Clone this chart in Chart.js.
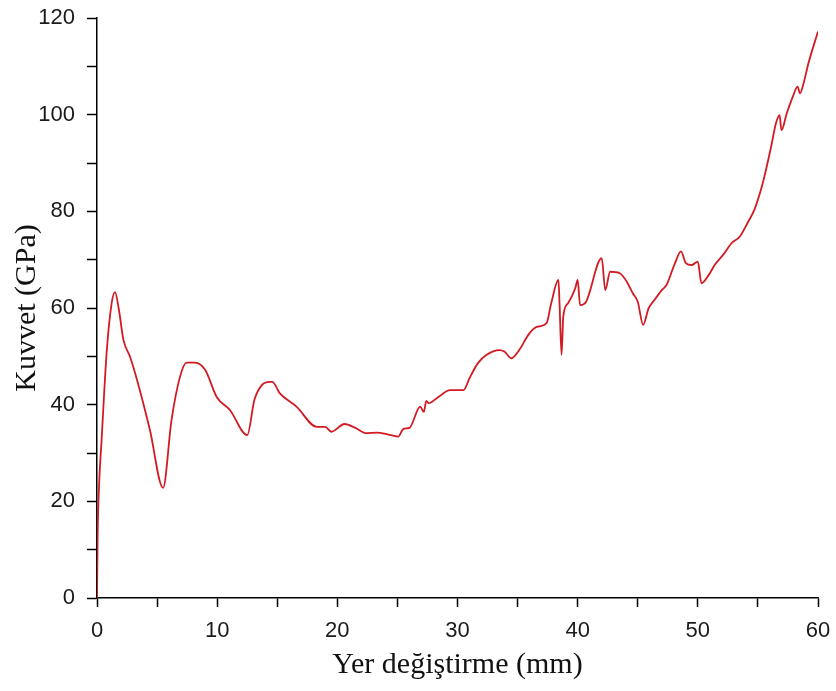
<!DOCTYPE html>
<html>
<head>
<meta charset="utf-8">
<script src="https://cdn.jsdelivr.net/npm/chart.js@4/dist/chart.umd.min.js"></script>
<style>
  html, body { margin: 0; padding: 0; background: #fff; }
  #wrap { width: 836px; height: 691px; }
</style>
</head>
<body>
<div id="wrap"><canvas id="canvas-1"></canvas></div>
<script>
// displacement (mm) and force readings
var disp = [0, 0.05, 0.15, 0.39, 0.8, 1.22, 1.5, 1.8, 2.2, 2.75, 3.4, 4.4, 5.5, 6.2, 6.9, 7.46, 8.15, 9.0, 9.96, 11.06,
  12.5, 13.1, 13.7, 14.4, 14.6, 15.2, 16.6, 18.3, 19.0, 19.5, 20.6, 21.5, 22.4, 23.3, 24.1, 25.07, 25.5, 26.0, 26.9, 27.2,
  27.4, 27.6, 28.3, 29.4, 30.5, 31.0, 31.7, 32.4, 33.5, 33.9, 34.5, 35.05, 36.0, 36.6, 37.4, 37.8, 38.4, 38.5, 38.66, 38.8,
  39.2, 39.8, 40.0, 40.2, 40.7, 42.0, 42.3, 42.7, 43.5, 44.1, 44.6, 45.0, 45.45, 45.9, 46.4, 47.0, 47.4, 48.1, 48.6, 49.0,
  49.5, 50.0, 50.3, 50.9, 51.4, 52.2, 52.8, 53.5, 54.2, 54.7, 55.4, 56.1, 56.5, 56.8, 56.96, 57.4, 57.9, 58.3, 58.5, 58.8,
  59.2, 60.0];
var force = [0, 12.6, 22, 33, 50.7, 61, 63.3, 60, 53.4, 49.9, 44.5, 34.8, 22.8, 36.8, 45.7, 48.7, 48.7, 47.2, 41.6, 38.9,
  33.7, 41, 44, 44.7, 44.7, 42.4, 39.6, 35.4, 35.4, 34.4, 36, 35.2, 34.1, 34.2, 33.9, 33.4, 35, 35.2, 39.6, 38.5,
  40.8, 40.3, 41.4, 43, 43, 45.5, 48.6, 50.3, 51.3, 51, 49.6, 51, 54.8, 56.1, 56.8, 61, 65.8, 60.3, 50.3, 58.2,
  61, 64.1, 65.8, 60.6, 61.3, 70.3, 63.7, 67.5, 67.2, 65.4, 63, 61.3, 56.5, 59.9, 61.7, 63.7, 64.8, 69.3, 71.7, 69.3,
  68.9, 69.6, 65.1, 66.8, 68.9, 71.3, 73.4, 74.8, 77.9, 80.3, 85.8, 93.4, 98.2, 99.9, 96.8, 100.3, 103.7, 105.8, 104.4, 106.5,
  110.6, 117.2];
var xTicks = [0, 10, 20, 30, 40, 50, 60];
var yTicks = [0, 20, 40, 60, 80, 100, 120];

var points = disp.map(function (d, i) {
  return { x: d, y: force[i] };
});

var tickFont = { family: '"Liberation Sans", Arial, sans-serif', size: 22 };
var titleFont = { family: '"Liberation Serif", "Times New Roman", serif', size: 30 };

var lineChart = new Chart(document.getElementById('canvas-1'), {
  type: 'scatter',
  data: {
    datasets: [{
      data: points,
      showLine: true,
      borderColor: '#d21a22',
      borderWidth: 1.8,
      pointRadius: 0,
      cubicInterpolationMode: 'monotone'
    }]
  },
  options: {
    responsive: true,
    maintainAspectRatio: false,
    animation: false,
    layout: { padding: { left: 0, top: 18, right: 18, bottom: 0 } },
    plugins: { legend: { display: false }, tooltip: { enabled: false } },
    scales: {
      x: {
        type: 'linear',
        min: 0,
        max: 60,
        afterFit: function (s) { s.height = 93; s.paddingLeft = 0; s.paddingRight = 0; },
        border: { color: '#000', width: 1.5 },
        grid: { drawOnChartArea: false, drawTicks: true, tickLength: 9, tickColor: '#000', tickWidth: 1.5 },
        ticks: {
          stepSize: 5,
          padding: 11,
          color: '#1a1a1a',
          font: tickFont,
          maxRotation: 0,
          callback: function (v) { return xTicks.indexOf(v) >= 0 ? String(v) : ''; }
        },
        title: { display: true, text: 'Yer değiştirme (mm)', color: '#111', font: titleFont, padding: { top: 0, bottom: 8 } }
      },
      y: {
        type: 'linear',
        min: 0,
        max: 120,
        afterFit: function (s) { s.width = 97; s.paddingTop = 0; s.paddingBottom = 0; },
        border: { color: '#000', width: 1.5 },
        grid: { drawOnChartArea: false, drawTicks: true, tickLength: 10, tickColor: '#000', tickWidth: 1.5 },
        ticks: {
          stepSize: 10,
          padding: 12,
          color: '#1a1a1a',
          font: tickFont,
          callback: function (v) { return yTicks.indexOf(v) >= 0 ? String(v) : ''; }
        },
        title: { display: true, text: 'Kuvvet (GPa)', color: '#111', font: titleFont, padding: { top: 9, bottom: 0 } }
      }
    }
  }
});
</script>
</body>
</html>
